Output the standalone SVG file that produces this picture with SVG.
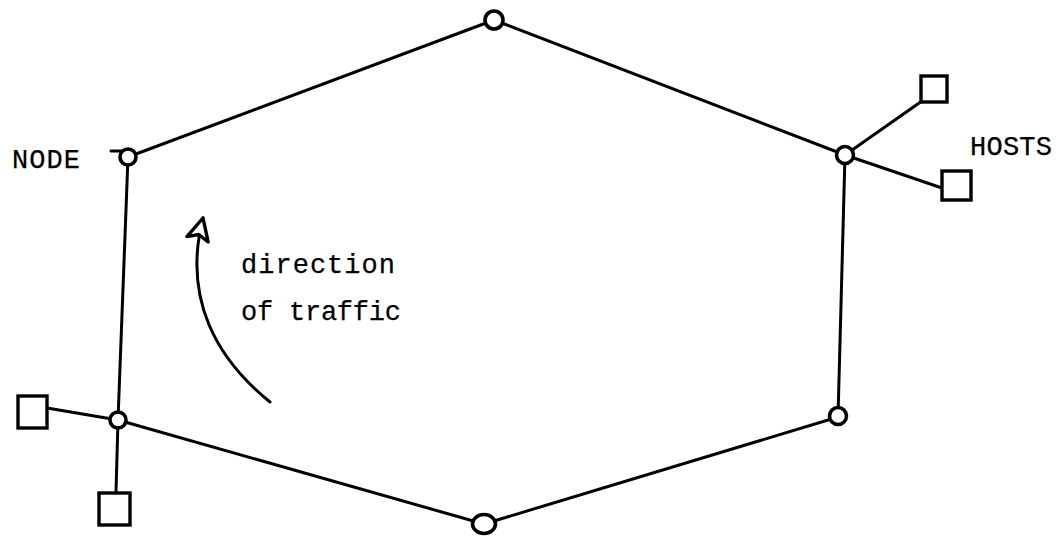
<svg xmlns="http://www.w3.org/2000/svg" width="1060" height="545" viewBox="0 0 1060 545">
<defs>
<style>
.edge{stroke:#000;stroke-width:3;fill:none;stroke-linecap:round}
.node{fill:#fff;stroke:#000;stroke-width:3.6}
.host{fill:#fff;stroke:#000;stroke-width:3.4}
.lbl{font-family:"Liberation Mono","Courier New",monospace;font-size:27px;fill:#000;stroke:#000;stroke-width:0.25}
</style>
<marker id="arr" viewBox="0 0 30 30" refX="26" refY="15" markerWidth="30" markerHeight="30" markerUnits="userSpaceOnUse" orient="auto">
<path d="M26,15 L4,4 L9,15 L4,26 Z" fill="#fff" stroke="#000" stroke-width="3.4" stroke-linejoin="round"/>
</marker>
</defs>
<rect width="1060" height="545" fill="#fff"/>
<g id="connectors">
<line class="edge" x1="494" y1="20" x2="128" y2="157"/>
<line class="edge" x1="128" y1="157" x2="118" y2="420"/>
<line class="edge" x1="118" y1="420" x2="484" y2="524"/>
<line class="edge" x1="484" y1="524" x2="838" y2="417"/>
<line class="edge" x1="838" y1="417" x2="845" y2="155"/>
<line class="edge" x1="845" y1="155" x2="494" y2="20"/>
<line class="edge" x1="845" y1="155" x2="922" y2="101"/>
<line class="edge" x1="845" y1="155" x2="942" y2="188"/>
<line class="edge" x1="118" y1="420" x2="47" y2="408"/>
<line class="edge" x1="118" y1="420" x2="116" y2="492"/>
<line class="edge" x1="111" y1="151" x2="122" y2="151"/>
</g>
<g id="traffic-arrow">
<path class="edge" d="M270,402 C218,360 182,300 203,218" stroke-width="3.8" marker-end="url(#arr)"/>
</g>
<g id="node-top"><circle class="node" cx="494" cy="20" r="9"/></g>
<g id="node-upper-left"><circle class="node" cx="128" cy="157" r="8"/></g>
<g id="node-upper-right"><circle class="node" cx="845" cy="155" r="8.5"/></g>
<g id="node-lower-left"><circle class="node" cx="118" cy="420" r="8"/></g>
<g id="node-lower-right"><circle class="node" cx="838" cy="416" r="8.5"/></g>
<g id="node-bottom"><ellipse class="node" cx="484" cy="524" rx="11.5" ry="9.5"/></g>
<g id="host-ur1"><rect class="host" x="921" y="76" width="26" height="26"/></g>
<g id="host-ur2"><rect class="host" x="942" y="171" width="29" height="29"/></g>
<g id="host-ll1"><rect class="host" x="18" y="396" width="29" height="32"/></g>
<g id="host-ll2"><rect class="host" x="99" y="493" width="31" height="32"/></g>
<g id="labels">
<text class="lbl" x="12" y="168" textLength="68" lengthAdjust="spacing">NODE</text>
<text class="lbl" x="970" y="155" textLength="82" lengthAdjust="spacing">HOSTS</text>
<text class="lbl" x="241" y="273" textLength="154" lengthAdjust="spacing">direction</text>
<text class="lbl" x="241" y="320" textLength="160" lengthAdjust="spacing">of traffic</text>
</g>
</svg>
